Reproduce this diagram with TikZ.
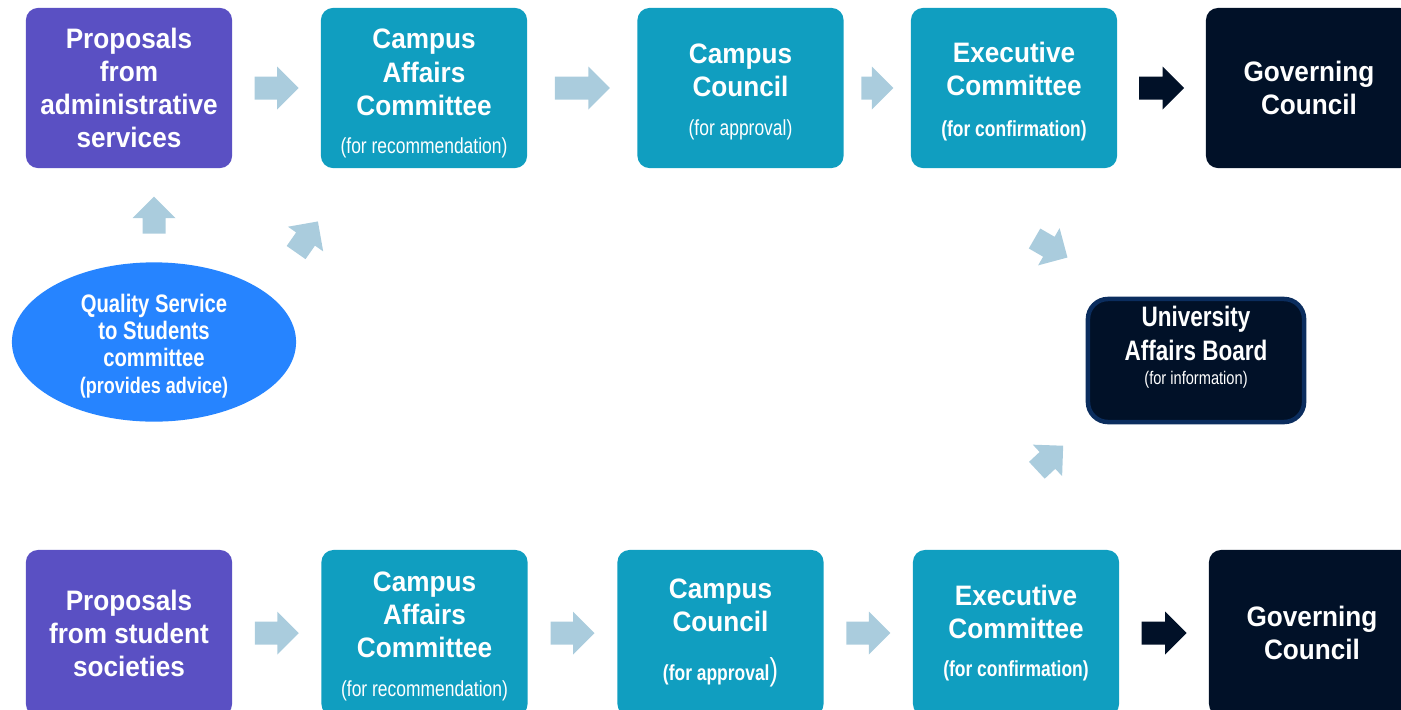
\documentclass[tikz,border=0pt]{standalone}
\usepackage{fontspec}
\setmainfont{Liberation Sans}[FakeStretch=0.93]
\newfontfamily\narrowfont{Liberation Sans}[FakeStretch=0.8]
\usepackage{xcolor}
\usetikzlibrary{calc,shapes.geometric}

\definecolor{propviolet}{HTML}{5A50C3}
\definecolor{boardteal}{HTML}{109EC0}
\definecolor{govnavy}{HTML}{011128}
\definecolor{uabrim}{HTML}{0B2D5E}
\definecolor{flowblue}{HTML}{AACCDD}
\definecolor{adviceblue}{HTML}{2684FF}

\newcommand{\thinnote}[1]{{\narrowfont\mdseries\fontsize{6.2}{7}\selectfont #1}}
\newcommand{\boldnote}[1]{{\narrowfont\bfseries\fontsize{6.2}{7}\selectfont #1}}

\tikzset{
    pics/flowarrow/.style={code={
        \fill (-#1/2,-11.5) -- (#1/2-21.5,-11.5) -- (#1/2-21.5,-21.5) -- (#1/2,0)
            -- (#1/2-21.5,21.5) -- (#1/2-21.5,11.5) -- (-#1/2,11.5) -- cycle;
    }}
}

\begin{document}
\begin{tikzpicture}[x=0.01cm, y=-0.01cm,
        every node/.style={inner sep=0pt, outer sep=0pt},
        stage/.style={rounded corners=1.2mm, minimum width=2.06cm,
            minimum height=1.6cm, align=center, text=white,
            font=\fontsize{8}{9.4}\selectfont\bfseries},
        lowrow/.style={minimum height=1.66cm},
        proposal/.style={stage, fill=propviolet},
        cttee/.style={stage, fill=boardteal},
        govern/.style={stage, fill=govnavy},
        advice/.style={ellipse, fill=adviceblue, minimum width=2.84cm,
            minimum height=1.54cm, align=center, text=white,
            font=\narrowfont\bfseries\fontsize{7.2}{7.7}\selectfont},
        uabbox/.style={rounded corners=2mm, fill=govnavy, draw=uabrim,
            line width=0.45mm, minimum width=2.16cm, minimum height=1.23cm},
        uabtext/.style={align=center, text=white,
            font=\narrowfont\bfseries\fontsize{8}{9.7}\selectfont}]
        % Frame
        \path[use as bounding box, clip] (0,0) rectangle (1401,709);

        % Top route: administrative services
        \node[proposal] (adm) at (129,88) {Proposals\\from\\administrative\\services};
        \node[cttee] (cac1) at (424,88) {\rule{0pt}{8.8pt}Campus\\Affairs\\Committee\\[1.5pt]\thinnote{(for recommendation)}};
        \node[cttee] (cc1) at (740.5,88) {\rule{0pt}{7.8pt}Campus\\Council\\[1.5pt]\thinnote{(for approval)}};
        \node[cttee] (exc1) at (1014,88) {\rule{0pt}{7.8pt}Executive\\Committee\\[2pt]\boldnote{(for confirmation)}};
        \node[govern] (gov1) at (1309,88) {Governing\\Council};

        \pic[flowblue] (f1) at ($(adm.east)!0.5!(cac1.west)$) {flowarrow=44};
        \pic[flowblue] (f2) at ($(cac1.east)!0.5!(cc1.west)$) {flowarrow=55};
        \pic[flowblue] (f3) at ($(cc1.east)!0.5!(exc1.west)$) {flowarrow=32};
        \pic[govnavy] (f4) at ($(exc1.east)!0.5!(gov1.west)$) {flowarrow=45};

        % Advice from the committee
        \node[advice] (qss) at (154,342) {\rule{0pt}{7.6pt}Quality Service\\to Students\\committee\\{\fontsize{6.4}{7.7}\selectfont (provides advice)}};
        \pic[flowblue, rotate=90] (up) at ($(qss.north)!0.5!(qss.north |- adm.south)$) {flowarrow=37};
        \pic[flowblue, rotate=55] (diag) at (307,237) {flowarrow=38};

        % University Affairs Board
        \node[uabbox] (uab) at (1196,360.5) {};
        \node[uabtext] (uabl) at ([yshift=1.3mm]uab.center) {University\\Affairs Board\\[-2.8pt]{\mdseries\fontsize{5.2}{6}\selectfont (for information)}};
        \pic[flowblue, rotate=-30] (down) at (1051,248) {flowarrow=38};
        \pic[flowblue, rotate=43] (rise) at (1050,458) {flowarrow=36};

        % Bottom route: student societies
        \node[proposal, lowrow] (stu) at (129,633) {Proposals\\from student\\societies};
        \node[cttee, lowrow] (cac2) at (424.5,633) {\rule{0pt}{7.6pt}Campus\\Affairs\\Committee\\[1.8pt]\thinnote{(for recommendation)}};
        \node[cttee, lowrow] (cc2) at (720.5,633) {Campus\\Council\\[4.5pt]\boldnote{(for approval}{\narrowfont\mdseries\fontsize{9}{9}\selectfont)}};
        \node[cttee, lowrow] (exc2) at (1016,633) {Executive\\Committee\\[1.4pt]\boldnote{(for confirmation)}};
        \node[govern, lowrow] (gov2) at (1312,633) {Governing\\Council};

        \pic[flowblue] (g1) at ($(stu.east)!0.5!(cac2.west)$) {flowarrow=44};
        \pic[flowblue] (g2) at ($(cac2.east)!0.5!(cc2.west)$) {flowarrow=44};
        \pic[flowblue] (g3) at ($(cc2.east)!0.5!(exc2.west)$) {flowarrow=44};
        \pic[govnavy] (g4) at ($(exc2.east)!0.5!(gov2.west)$) {flowarrow=45};
    \end{tikzpicture}
\end{document}
